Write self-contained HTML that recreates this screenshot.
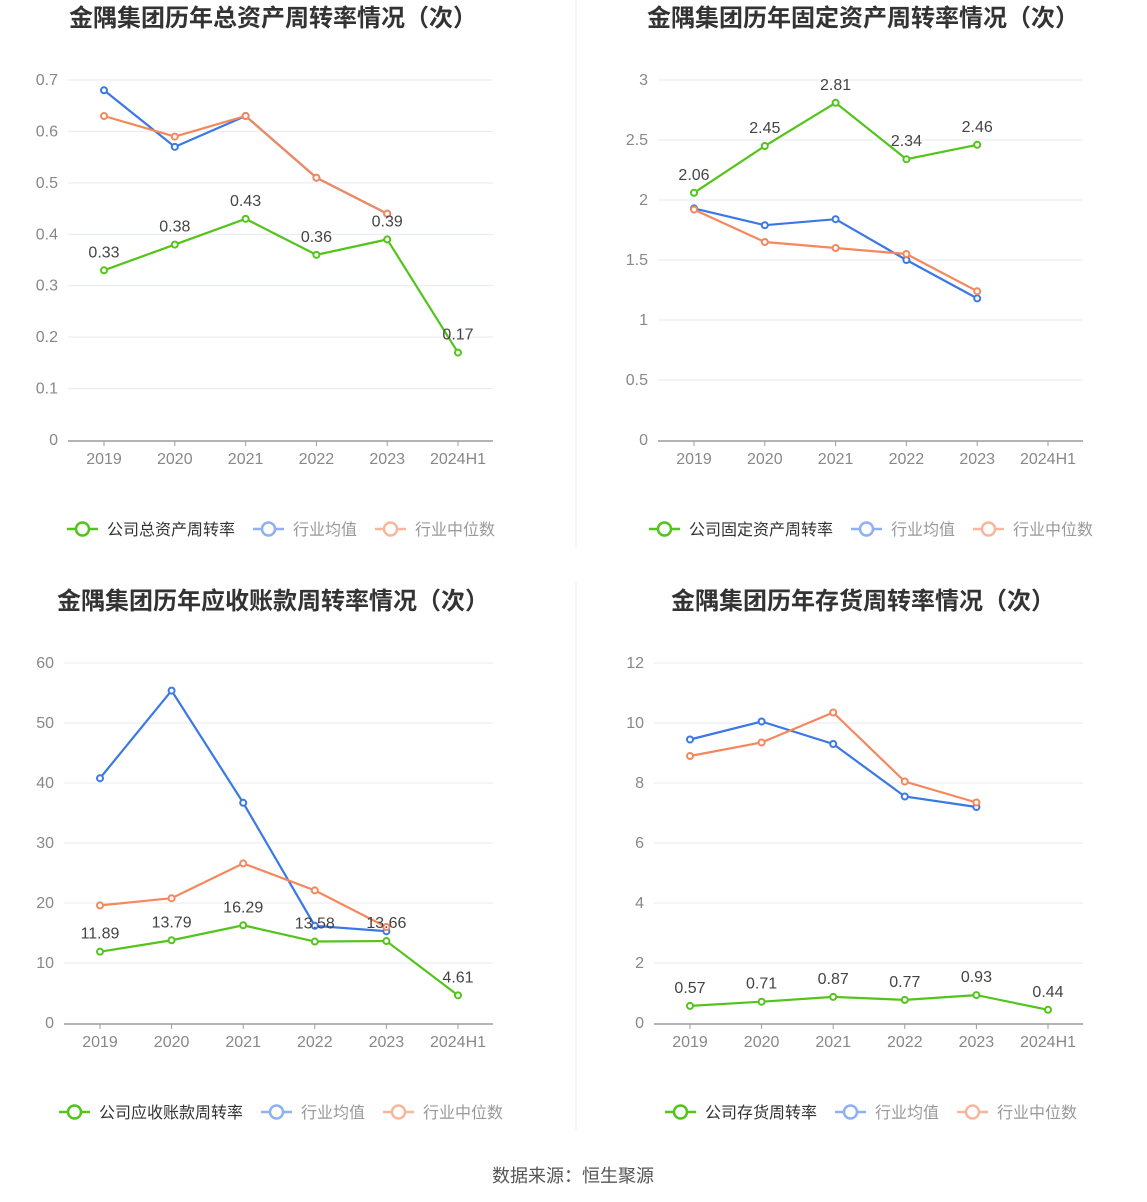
<!DOCTYPE html>
<html><head><meta charset="utf-8">
<style>
body{margin:0;background:#fff;width:1147px;height:1202px;overflow:hidden;font-family:"Liberation Sans","Noto Sans CJK SC",sans-serif}
svg{position:absolute;left:0;top:0}
</style></head><body>
<svg id="s" width="1147" height="1202">
<line x1="576" y1="0" x2="576" y2="548" stroke="#eee"/>
<line x1="576" y1="582" x2="576" y2="1130" stroke="#eee"/>
<text x="573" y="1182" text-anchor="middle" font-size="18" fill="#555">数据来源：恒生聚源</text>
</svg>
<script>
const cats=["2019","2020","2021","2022","2023","2024H1"];
const c1Company=[0.33,0.38,0.43,0.36,0.39,0.17];
const c1Avg=[0.68,0.57,0.63,0.51,0.44];
const c1Med=[0.63,0.59,0.63,0.51,0.44];
const c1Ticks=[0,0.1,0.2,0.3,0.4,0.5,0.6,0.7];
const c2Company=[2.06,2.45,2.81,2.34,2.46];
const c2Avg=[1.93,1.79,1.84,1.50,1.18];
const c2Med=[1.92,1.65,1.60,1.55,1.24];
const c2Ticks=[0,0.5,1,1.5,2,2.5,3];
const c3Company=[11.89,13.79,16.29,13.58,13.66,4.61];
const c3Avg=[40.8,55.4,36.7,16.2,15.3];
const c3Med=[19.6,20.8,26.6,22.1,16.0];
const c3Ticks=[0,10,20,30,40,50,60];
const c4Company=[0.57,0.71,0.87,0.77,0.93,0.44];
const c4Avg=[9.45,10.05,9.3,7.55,7.2];
const c4Med=[8.9,9.35,10.35,8.05,7.35];
const c4Ticks=[0,2,4,6,8,10,12];

const svg=document.getElementById('s');
const NS='http://www.w3.org/2000/svg';
function mk(tag,attrs,parent){const e=document.createElementNS(NS,tag);for(const k in attrs)e.setAttribute(k,attrs[k]);(parent||svg).appendChild(e);return e;}
const G='#52c41a',B='#3a78e6',O='#f5875d';

function chart(cfg){
  const g=mk('g',{});
  
  
  const max=cfg.ticks[cfg.ticks.length-1];
  const y=v=>cfg.y0-(v/max)*(cfg.y0-cfg.yTop);
  const step=(cfg.xLast-cfg.xFirst)/5;
  const x=i=>cfg.xFirst+i*step;
  const t=mk('text',{x:cfg.tx,y:cfg.ty,'text-anchor':'middle','font-size':24,'font-weight':'bold',fill:'#333'},g);
  t.textContent=cfg.title;
  
  
  cfg.ticks.forEach(v=>{
    if(v>0){const l=mk('line',{x1:cfg.ax0,x2:cfg.ax1,y1:y(v),y2:y(v),stroke:'#e6e9f2'},g);
      
      }
    const tt=mk('text',{x:cfg.ax0-10,y:y(v)+5,'text-anchor':'end','font-size':16,fill:'#888'},g);
    tt.textContent=String(v);
    
    
  });
  const ax=mk('line',{x1:cfg.ax0,x2:cfg.ax1,y1:cfg.y0+1,y2:cfg.y0+1,stroke:'#9a9ca3','stroke-width':1.5},g);
  
  
  cats.forEach((c,i)=>{
    mk('line',{x1:x(i),x2:x(i),y1:cfg.y0+1,y2:cfg.y0+6,stroke:'#9a9ca3'},g);
    const tt=mk('text',{x:x(i),y:cfg.y0+24,'text-anchor':'middle','font-size':16,fill:'#888'},g);
    tt.textContent=c;
    
    
  });
  function series(vals,col,nm){
    const p=mk('polyline',{points:vals.map((v,i)=>x(i)+','+y(v)).join(' '),fill:'none',stroke:col,'stroke-width':2.2},g);
    
    
    vals.forEach((v,i)=>{
      const c=mk('circle',{cx:x(i),cy:y(v),r:3,fill:'#fff',stroke:col,'stroke-width':2},g);
      
      
    });
    return p;
  }
  series(cfg.avg,B,'industry-average');
  series(cfg.med,O,'industry-median');
  series(cfg.comp,G,'company');
  cfg.comp.forEach((v,i)=>{
    const tt=mk('text',{x:x(i),y:y(v)-13,'text-anchor':'middle','font-size':16,fill:'#444'},g);
    tt.textContent=v.toFixed(2);
    
    
  });
  const items=[[cfg.legend,G,1],['行业均值','#8fb0f2',0],['行业中位数','#f8b79c',0]];
  let lx=cfg.lx;const ly=cfg.ly;
  items.forEach(([txt,col,dark])=>{
    const lg=mk('g',{},g);
    
    
    mk('line',{x1:lx,x2:lx+31,y1:ly,y2:ly,stroke:col,'stroke-width':2.5},lg);
    mk('circle',{cx:lx+15.5,cy:ly,r:6.5,fill:'#fff',stroke:col,'stroke-width':2.5},lg);
    const tt=mk('text',{x:lx+40,y:ly+6,'font-size':16,fill:dark?'#333':'#999'},lg);
    tt.textContent=txt;
    lx+=40+txt.length*16+18;
  });
}
chart({name:'total-asset-turnover-chart',title:'金隅集团历年总资产周转率情况（次）',tx:273,ty:26,ticks:c1Ticks,y0:440,yTop:80,xFirst:104,xLast:458,ax0:68,ax1:493,comp:c1Company,avg:c1Avg,med:c1Med,legend:'公司总资产周转率',lx:67,ly:529});
chart({name:'fixed-asset-turnover-chart',title:'金隅集团历年固定资产周转率情况（次）',tx:863,ty:26,ticks:c2Ticks,y0:440,yTop:80,xFirst:694,xLast:1048,ax0:658,ax1:1083,comp:c2Company,avg:c2Avg,med:c2Med,legend:'公司固定资产周转率',lx:649,ly:529});
chart({name:'receivables-turnover-chart',title:'金隅集团历年应收账款周转率情况（次）',tx:273,ty:609,ticks:c3Ticks,y0:1023,yTop:663,xFirst:100,xLast:458,ax0:64,ax1:493,comp:c3Company,avg:c3Avg,med:c3Med,legend:'公司应收账款周转率',lx:59,ly:1112});
chart({name:'inventory-turnover-chart',title:'金隅集团历年存货周转率情况（次）',tx:863,ty:609,ticks:c4Ticks,y0:1023,yTop:663,xFirst:690,xLast:1048,ax0:654,ax1:1083,comp:c4Company,avg:c4Avg,med:c4Med,legend:'公司存货周转率',lx:665,ly:1112});
</script>
</body></html>
